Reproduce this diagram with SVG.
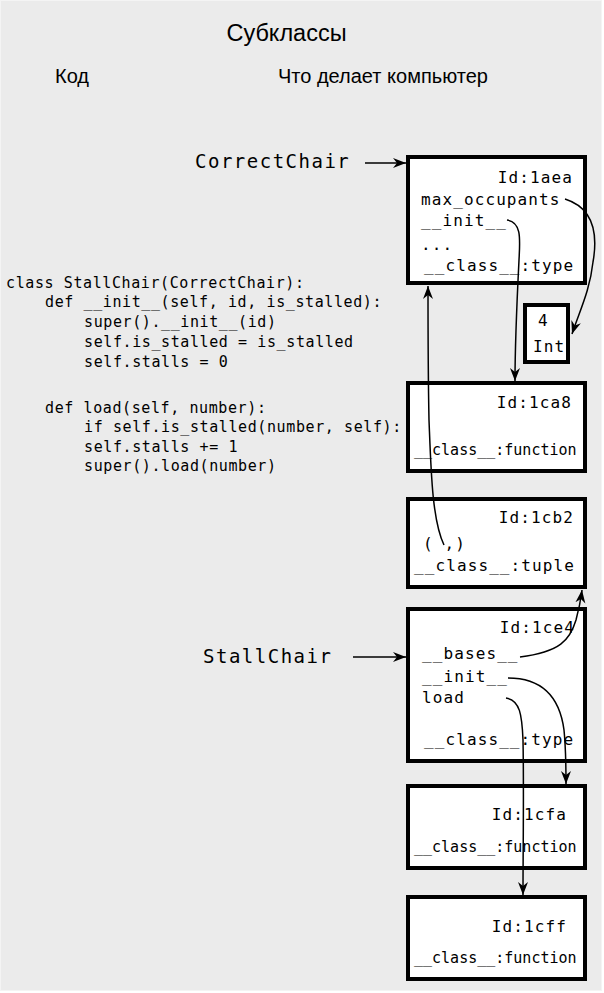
<svg xmlns="http://www.w3.org/2000/svg" width="604" height="993" viewBox="0 0 604 993">
<style>
.sans{font-family:"Liberation Sans",Arial,sans-serif;fill:#000}
.code{font-family:"DejaVu Sans Mono","Liberation Mono",monospace;font-size:15px;letter-spacing:0.6px;fill:#000}
.bt{font-family:"DejaVu Sans Mono","Liberation Mono",monospace;font-size:16px;letter-spacing:1.1px;fill:#000}
.fn{font-family:"DejaVu Sans Mono","Liberation Mono",monospace;font-size:15px;letter-spacing:0px;fill:#000}
.lbl{font-family:"DejaVu Sans Mono","Liberation Mono",monospace;font-size:19px;letter-spacing:1.5px;fill:#000}
.box{fill:#fff;stroke:#000;stroke-width:4}
.con{fill:none;stroke:#000;stroke-width:1.5}
</style>
<defs>
<marker id="ah" markerUnits="userSpaceOnUse" markerWidth="14" markerHeight="12" viewBox="0 0 14 12" refX="13" refY="6" orient="auto">
<path d="M0,1 L13,6 L0,11 L4,6 z" fill="#000"/>
</marker>
</defs>
<rect x="0.5" y="0.5" width="601" height="990" fill="#ebebeb" stroke="#f4f4f4"/>
<g id="titles">
<text class="sans" x="286.5" y="41" font-size="23.5" text-anchor="middle">Субклассы</text>
<text class="sans" x="55" y="83" font-size="20">Код</text>
<text class="sans" x="278" y="83" font-size="20">Что делает компьютер</text>
</g>
<g id="code">
<text class="code" x="6" y="288">class StallChair(CorrectChair):</text>
<text class="code" x="45" y="307">def __init__(self, id, is_stalled):</text>
<text class="code" x="84" y="327">super().__init__(id)</text>
<text class="code" x="84" y="347">self.is_stalled = is_stalled</text>
<text class="code" x="84" y="367">self.stalls = 0</text>
<text class="code" x="45" y="413">def load(self, number):</text>
<text class="code" x="84" y="432">if self.is_stalled(number, self):</text>
<text class="code" x="84" y="452">self.stalls += 1</text>
<text class="code" x="84" y="471">super().load(number)</text>
</g>
<g id="label-correctchair">
<text class="lbl" x="195" y="168">CorrectChair</text>
</g>
<g id="label-stallchair">
<text class="lbl" x="203" y="663">StallChair</text>
</g>
<g id="node-1aea">
<rect class="box" x="408" y="157" width="177" height="126"/>
<text class="bt" x="573" y="183" text-anchor="end">Id:1aea</text>
<text class="bt" x="421" y="205">max_occupants</text>
<text class="bt" x="421" y="226">__init__</text>
<text class="bt" x="421" y="250">...</text>
<text class="bt" x="424" y="271">__class__:type</text>
</g>
<g id="node-int">
<rect class="box" x="525" y="305" width="43" height="57"/>
<text class="bt" x="538" y="326">4</text>
<text class="bt" x="533" y="352">Int</text>
</g>
<g id="node-1ca8">
<rect class="box" x="408" y="383" width="177" height="88"/>
<text class="bt" x="572" y="408" text-anchor="end">Id:1ca8</text>
<text class="fn" x="414" y="455" letter-spacing="0.4">__class__:function</text>
</g>
<g id="node-1cb2">
<rect class="box" x="408" y="499" width="177" height="88"/>
<text class="bt" x="574" y="523" text-anchor="end">Id:1cb2</text>
<text class="bt" x="423" y="549">( ,)</text>
<text class="bt" x="414" y="571">__class__:tuple</text>
</g>
<g id="node-1ce4">
<rect class="box" x="408" y="609" width="177" height="152"/>
<text class="bt" x="575" y="633" text-anchor="end">Id:1ce4</text>
<text class="bt" x="422" y="659">__bases__</text>
<text class="bt" x="422" y="682">__init__</text>
<text class="bt" x="422" y="703">load</text>
<text class="bt" x="424" y="745">__class__:type</text>
</g>
<g id="node-1cfa">
<rect class="box" x="408" y="786" width="177" height="82"/>
<text class="bt" x="567" y="820" text-anchor="end">Id:1cfa</text>
<text class="fn" x="414" y="852">__class__:function</text>
</g>
<g id="node-1cff">
<rect class="box" x="408" y="897" width="177" height="82"/>
<text class="bt" x="567" y="932" text-anchor="end">Id:1cff</text>
<text class="fn" x="414" y="963">__class__:function</text>
</g>
<g id="connectors">
<path class="con" d="M365,163 L406,163" marker-end="url(#ah)"/>
<path class="con" d="M353,657 L406,657" marker-end="url(#ah)"/>
<path class="con" d="M565,199 C600,210 596,245 593,262 C590,290 580,310 572,334" marker-end="url(#ah)"/>
<path class="con" d="M507,220 C522,222 520,240 519,260 C517,300 515,340 515,381" marker-end="url(#ah)"/>
<path class="con" d="M444,545 C432,520 431,470 429,420 C428,370 428,320 428,286" marker-end="url(#ah)"/>
<path class="con" d="M520,657 C560,652 570,640 576,620 C580,605 581,598 582,590" marker-end="url(#ah)"/>
<path class="con" d="M508,678 C545,678 560,700 564,730 C566,750 566,765 566,784" marker-end="url(#ah)"/>
<path class="con" d="M506,698 C520,700 522,715 523,740 C524,790 523,850 523,895" marker-end="url(#ah)"/>
</g>
</svg>
